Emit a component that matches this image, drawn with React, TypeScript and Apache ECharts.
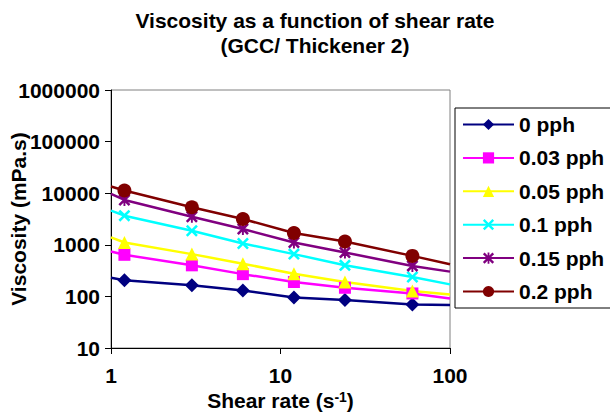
import React, { useEffect, useRef } from 'react';
import * as echarts from 'echarts';

// Shear rate (s^-1); first and last entries are where the drawn lines begin/end (no marker)
const shearRates = [1, 1.2, 3, 6, 12, 24, 60, 100];
const seriesNames = ['0 pph', '0.03 pph', '0.05 pph', '0.1 pph', '0.15 pph', '0.2 pph'];
const visc0 = [230, 205, 165, 130, 95, 85, 70, 68];
const visc003 = [740, 640, 400, 270, 190, 147, 114, 91];
const visc005 = [1390, 1110, 660, 430, 276, 190, 127, 109];
const visc01 = [4600, 3670, 1870, 1060, 660, 400, 238, 171];
const visc015 = [9700, 7400, 3500, 2020, 1110, 710, 390, 302];
const visc02 = [13500, 11300, 5340, 3160, 1690, 1160, 610, 420];
const allValues = [visc0, visc003, visc005, visc01, visc015, visc02];

const titleLines = ['Viscosity as a function of shear rate', '(GCC/ Thickener 2)'];

const FONT = "'Liberation Sans', Arial, Helvetica, sans-serif";
const X_PATH = 'path://M1.5,0L5,3.5L8.5,0L10,1.5L6.5,5L10,8.5L8.5,10L5,6.5L1.5,10L0,8.5L3.5,5L0,1.5Z';
const STAR_PATH = 'path://M1.5,0L5,3.5L8.5,0L10,1.5L6.5,5L10,8.5L8.5,10L5,6.5L1.5,10L0,8.5L3.5,5L0,1.5ZM4.2,0L5.8,0L5.8,10L4.2,10Z';

const seriesStyles = [
  { color: '#000080', symbol: 'diamond', size: 14 },
  { color: '#FF00FF', symbol: 'rect', size: 12 },
  { color: '#FFFF00', symbol: 'triangle', size: 13 },
  { color: '#00FFFF', symbol: X_PATH, size: 12 },
  { color: '#800080', symbol: STAR_PATH, size: 12 },
  { color: '#800000', symbol: 'circle', size: 14 },
];

export default function App() {
  const ref = useRef<HTMLDivElement>(null);

  useEffect(() => {
    document.body.style.margin = '0';
    if (!ref.current) return;
    const chart = echarts.init(ref.current, null, { renderer: 'svg' });
    const last = shearRates.length - 1;
    const series = seriesNames.map((name, k) => {
      const st = seriesStyles[k];
      return {
        name,
        type: 'line',
        symbol: st.symbol,
        symbolSize: st.size,
        showAllSymbol: true,
        lineStyle: { color: st.color, width: 2.5 },
        itemStyle: { color: st.color },
        data: shearRates.map((x, i) => ({
          value: [x, allValues[k][i]],
          symbol: i === 0 || i === last ? 'none' : st.symbol,
        })),
      };
    });

    chart.setOption({
      animation: false,
      backgroundColor: '#ffffff',
      textStyle: { fontFamily: FONT },
      graphic: titleLines.map((t, i) => ({
        type: 'text',
        x: 315,
        y: 20 + i * 25,
        style: {
          text: t,
          fontSize: 21,
          fontWeight: 'bold',
          fontFamily: FONT,
          fill: '#000',
          align: 'center',
          verticalAlign: 'middle',
        },
      })),
      grid: {
        left: 111,
        right: 160,
        top: 90,
        bottom: 67,
        show: true,
        borderColor: '#808080',
        borderWidth: 1,
        backgroundColor: 'transparent',
        containLabel: false,
        outerBoundsMode: 'none',
      },
      legend: {
        orient: 'vertical',
        left: 455,
        top: 108,
        padding: [6, 12, 6, 7],
        itemWidth: 51,
        itemHeight: 14,
        itemGap: 12.4,
        borderColor: '#000',
        borderWidth: 1,
        backgroundColor: '#fff',
        data: seriesNames,
        textStyle: { fontSize: 21, fontWeight: 'bold', color: '#000', fontFamily: FONT },
      },
      xAxis: {
        type: 'log',
        logBase: 10,
        min: 1,
        max: 100,
        name: 'Shear rate (s{sup|-1})',
        nameLocation: 'middle',
        nameGap: 42,
        nameMoveOverlap: false,
        nameTextStyle: {
          fontSize: 21,
          fontWeight: 'bold',
          color: '#000',
          fontFamily: FONT,
          rich: {
            sup: { fontSize: 14, fontWeight: 'bold', color: '#000', fontFamily: FONT, verticalAlign: 'top' },
          },
        },
        axisLine: { lineStyle: { color: '#000', width: 1 } },
        axisTick: { show: true, length: 6, lineStyle: { color: '#000' } },
        minorTick: { show: false },
        splitLine: { show: false },
        axisLabel: {
          fontSize: 21,
          fontWeight: 'bold',
          color: '#000',
          fontFamily: FONT,
          margin: 17,
          formatter: (v: number) => String(Math.round(v)),
        },
      },
      yAxis: {
        type: 'log',
        logBase: 10,
        min: 10,
        max: 1000000,
        name: 'Viscosity (mPa.s)',
        nameLocation: 'middle',
        nameGap: 82,
        nameMoveOverlap: false,
        nameTextStyle: { fontSize: 21, fontWeight: 'bold', color: '#000', fontFamily: FONT },
        axisLine: { show: true, lineStyle: { color: '#000', width: 1 } },
        axisTick: { show: true, length: 6, lineStyle: { color: '#000' } },
        splitLine: { show: false },
        axisLabel: {
          fontSize: 21,
          fontWeight: 'bold',
          color: '#000',
          fontFamily: FONT,
          margin: 11,
          formatter: (v: number) => String(Math.round(v)),
        },
      },
      series,
    });

    return () => {
      chart.dispose();
    };
  }, []);

  return <div ref={ref} style={{ width: 610, height: 415 }} />;
}
